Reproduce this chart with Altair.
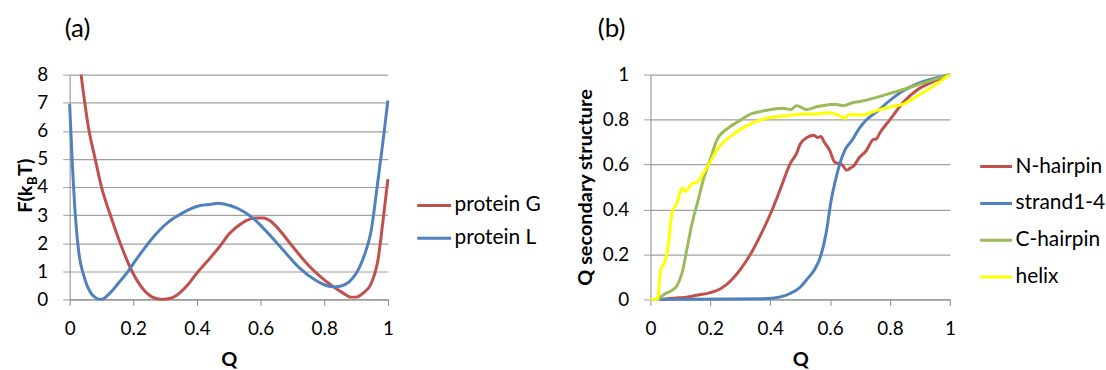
import altair as alt
import pandas as pd

FONT = "Lato"
RED = "#C0504D"
BLUE = "#4F81BD"
GREEN = "#9BBB59"
YELLOW = "#FFFF00"
GRID = "#a0a0a0"
AXIS = "#8a8a8a"

# ---------------- panel (a) data ----------------
qG = [0.036, 0.058, 0.081, 0.10, 0.128, 0.159, 0.196, 0.232, 0.26, 0.29, 0.32, 0.347, 0.37, 0.40,
      0.44, 0.472, 0.503, 0.53, 0.555, 0.58, 0.61, 0.63, 0.649, 0.70, 0.753, 0.805, 0.857, 0.883,
      0.90, 0.924, 0.946, 0.969, 0.985, 1.0]
fG = [8.0, 6.2, 4.96, 4.0, 3.0, 2.0, 1.0, 0.35, 0.08, 0.0, 0.05, 0.24, 0.5, 0.94,
      1.45, 1.89, 2.35, 2.62, 2.8, 2.9, 2.9, 2.8, 2.6, 1.89, 1.18, 0.65, 0.24, 0.08,
      0.08, 0.24, 0.53, 1.42, 2.83, 4.28]
qL = [0.0, 0.008, 0.019, 0.029, 0.045, 0.066, 0.08, 0.097, 0.11, 0.128, 0.155, 0.18, 0.205, 0.232,
      0.258, 0.284, 0.31, 0.336, 0.37, 0.41, 0.44, 0.467, 0.50, 0.524, 0.55, 0.576, 0.618, 0.67,
      0.722, 0.774, 0.80, 0.826, 0.85, 0.878, 0.909, 0.93, 0.946, 0.969, 0.985, 1.0]
fL = [6.95, 4.96, 2.83, 1.65, 0.83, 0.24, 0.07, 0.0, 0.05, 0.24, 0.6, 0.94, 1.35, 1.77,
      2.15, 2.48, 2.75, 2.95, 3.17, 3.34, 3.38, 3.42, 3.35, 3.26, 3.1, 2.89, 2.42, 1.77,
      1.12, 0.67, 0.52, 0.45, 0.47, 0.62, 1.1, 1.7, 2.36, 4.25, 5.66, 7.08]
seriesA = ["protein G", "protein L"]

# ---------------- panel (b) data ----------------
qN = [0.03, 0.095, 0.12, 0.153, 0.2, 0.234, 0.269, 0.303, 0.338, 0.373, 0.407, 0.442, 0.465, 0.488,
      0.5, 0.523, 0.546, 0.558, 0.569, 0.58, 0.598, 0.616, 0.639, 0.656, 0.668, 0.68, 0.697, 0.72,
      0.743, 0.755, 0.766, 0.80, 0.847, 0.894, 0.94, 1.0]
yN = [0.0, 0.007, 0.01, 0.018, 0.03, 0.047, 0.084, 0.138, 0.21, 0.30, 0.40, 0.52, 0.60, 0.65,
      0.69, 0.72, 0.73, 0.72, 0.725, 0.70, 0.665, 0.61, 0.60, 0.575, 0.585, 0.595, 0.63, 0.66,
      0.71, 0.715, 0.74, 0.80, 0.88, 0.935, 0.966, 1.0]
qS = [0.03, 0.38, 0.43, 0.465, 0.5, 0.523, 0.546, 0.569, 0.587, 0.604, 0.616, 0.633, 0.65, 0.674,
      0.697, 0.72, 0.755, 0.8, 0.847, 0.905, 1.0]
yS = [0.0, 0.003, 0.01, 0.025, 0.054, 0.09, 0.128, 0.194, 0.297, 0.444, 0.518, 0.606, 0.665, 0.709,
      0.76, 0.797, 0.834, 0.885, 0.93, 0.966, 1.0]
qC = [0.025, 0.049, 0.072, 0.089, 0.106, 0.124, 0.141, 0.159, 0.176, 0.199, 0.222, 0.257, 0.292, 0.338,
      0.384, 0.42, 0.442, 0.47, 0.488, 0.5, 0.52, 0.558, 0.59, 0.616, 0.645, 0.674, 0.7, 0.731,
      0.789, 0.847, 0.905, 1.0]
yC = [0.0, 0.025, 0.04, 0.062, 0.12, 0.24, 0.35, 0.44, 0.53, 0.62, 0.71, 0.76, 0.79, 0.826,
      0.84, 0.848, 0.85, 0.845, 0.862, 0.856, 0.845, 0.858, 0.865, 0.868, 0.862, 0.875, 0.88, 0.89,
      0.912, 0.935, 0.96, 1.0]
qH = [0.0, 0.023, 0.035, 0.049, 0.06, 0.072, 0.089, 0.106, 0.118, 0.135, 0.159, 0.176, 0.199, 0.222,
      0.245, 0.28, 0.326, 0.384, 0.442, 0.5, 0.558, 0.593, 0.627, 0.65, 0.662, 0.708, 0.755, 0.80,
      0.847, 0.894, 0.94, 1.0]
yH = [0.0, 0.0, 0.135, 0.17, 0.245, 0.385, 0.43, 0.495, 0.48, 0.51, 0.525, 0.56, 0.61, 0.665,
      0.70, 0.738, 0.775, 0.805, 0.815, 0.824, 0.826, 0.83, 0.82, 0.805, 0.823, 0.82, 0.84, 0.856,
      0.87, 0.907, 0.944, 1.0]
seriesB = ["N-hairpin", "strand1-4", "C-hairpin", "helix"]

x_ticks = [0, 0.2, 0.4, 0.6, 0.8, 1]
yA_ticks = [0, 1, 2, 3, 4, 5, 6, 7, 8]
yB_ticks = [0, 0.2, 0.4, 0.6, 0.8, 1]

dfA = pd.DataFrame({
    "Q": qG + qL,
    "F": fG + fL,
    "series": [seriesA[0]] * len(qG) + [seriesA[1]] * len(qL),
})
dfB = pd.DataFrame({
    "Q": qN + qS + qC + qH,
    "V": yN + yS + yC + yH,
    "series": [seriesB[0]] * len(qN) + [seriesB[1]] * len(qS) + [seriesB[2]] * len(qC) + [seriesB[3]] * len(qH),
})

LABEL_SIZE = 19
LEGEND_SIZE = 21
TITLE_SIZE = 20


def x_axis():
    return alt.Axis(values=x_ticks, format="~g", grid=False, title="Q",
                    titleFont=FONT, titleFontSize=TITLE_SIZE, titleFontWeight="bold", titleColor="black",
                    titlePadding=11, labelFont=FONT, labelFontSize=LABEL_SIZE, labelColor="black",
                    labelPadding=14, tickSize=6, tickColor=AXIS, domainColor=AXIS, domainWidth=1,
                    labelFlush=False)


def y_axis(vals, title=None):
    kw = dict(values=vals, format="~g", grid=True, gridColor=GRID, gridWidth=1.2,
              labelFont=FONT, labelFontSize=LABEL_SIZE, labelColor="black", labelPadding=15,
              tickSize=7, tickColor=GRID, domainColor=AXIS, domainWidth=1, labelFlush=False)
    if title is None:
        kw["title"] = None
    else:
        kw.update(title=title, titleFont=FONT, titleFontSize=TITLE_SIZE, titleFontWeight="bold",
                  titleColor="black", titlePadding=7)
    return alt.Axis(**kw)


def legend(x, y, rowpad, symlen):
    return alt.Legend(orient="none", legendX=x, legendY=y, title=None, symbolType="stroke",
                      symbolSize=symlen * symlen, symbolStrokeWidth=3, labelFont=FONT,
                      labelFontSize=LEGEND_SIZE, labelColor="black", labelOffset=2,
                      rowPadding=rowpad, padding=0, symbolOpacity=1)


lineA = alt.Chart(dfA).mark_line(strokeWidth=3, interpolate="monotone").encode(
    x=alt.X("Q:Q", scale=alt.Scale(domain=[0, 1], nice=False), axis=x_axis()),
    y=alt.Y("F:Q", scale=alt.Scale(domain=[0, 8], nice=False), axis=y_axis(yA_ticks)),
    color=alt.Color("series:N", scale=alt.Scale(domain=seriesA, range=[RED, BLUE]),
                    legend=legend(348, 113, 4, 34), sort=seriesA),
)

tagA = alt.Chart(pd.DataFrame({"t": ["(a)"]})).mark_text(
    font=FONT, fontSize=26, align="left", baseline="middle", color="black"
).encode(x=alt.value(-5), y=alt.value(-46), text="t:N")

ytA1 = alt.Chart(pd.DataFrame({"t": ["F(k"]})).mark_text(
    font=FONT, fontSize=TITLE_SIZE, fontWeight="bold", angle=270, align="left", baseline="alphabetic", color="black"
).encode(x=alt.value(-38), y=alt.value(139), text="t:N")
ytA2 = alt.Chart(pd.DataFrame({"t": ["B"]})).mark_text(
    font=FONT, fontSize=13, fontWeight="bold", angle=270, align="left", baseline="alphabetic", color="black"
).encode(x=alt.value(-33), y=alt.value(111), text="t:N")
ytA3 = alt.Chart(pd.DataFrame({"t": ["T)"]})).mark_text(
    font=FONT, fontSize=TITLE_SIZE, fontWeight="bold", angle=270, align="left", baseline="alphabetic", color="black"
).encode(x=alt.value(-38), y=alt.value(102), text="t:N")

panelA = alt.layer(lineA, tagA, ytA1, ytA2, ytA3).properties(width=320, height=226)

lineB = alt.Chart(dfB).mark_line(strokeWidth=3, interpolate="monotone").encode(
    x=alt.X("Q:Q", scale=alt.Scale(domain=[0, 1], nice=False), axis=x_axis()),
    y=alt.Y("V:Q", scale=alt.Scale(domain=[0, 1], nice=False),
            axis=y_axis(yB_ticks, "Q secondary structure")),
    color=alt.Color("series:N", scale=alt.Scale(domain=seriesB, range=[RED, BLUE, GREEN, YELLOW]),
                    legend=legend(330, 75, 9, 32), sort=seriesB),
)

tagB = alt.Chart(pd.DataFrame({"t": ["(b)"]})).mark_text(
    font=FONT, fontSize=26, align="left", baseline="middle", color="black"
).encode(x=alt.value(-53), y=alt.value(-46), text="t:N")

panelB = alt.layer(lineB, tagB).properties(width=301, height=226)

chart = alt.hconcat(panelA, panelB, spacing=264, bounds="flush").resolve_scale(
    color="independent", x="independent", y="independent"
).properties(
    padding={"left": 16, "top": 15, "right": 0, "bottom": 0},
    background="white",
).configure_view(stroke=None)

chart.save("out.html", embed_options={"renderer": "svg", "actions": False})
